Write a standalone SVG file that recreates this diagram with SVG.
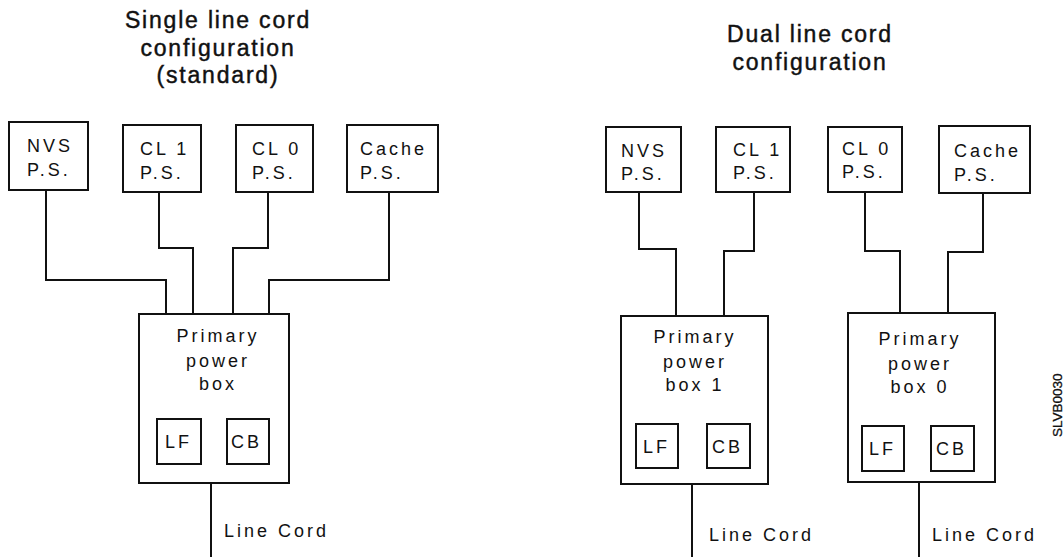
<svg xmlns="http://www.w3.org/2000/svg" width="1064" height="557" viewBox="0 0 1064 557">
<style>
.b{fill:#fff;stroke:#111;stroke-width:2}
.w{fill:none;stroke:#111;stroke-width:2}
.t{font-family:"Liberation Sans",Arial,sans-serif;font-size:23px;fill:#111;stroke:#111;stroke-width:0.45;text-anchor:middle;letter-spacing:1.8px}
.l{font-family:"Liberation Sans",Arial,sans-serif;font-size:18px;fill:#111;letter-spacing:3px}
.c{text-anchor:middle}
.s{font-family:"Liberation Sans",Arial,sans-serif;font-size:13.5px;fill:#111;stroke:#111;stroke-width:0.3}
</style>
<rect width="1064" height="557" fill="#fff"/>
<g id="titles">
<text class="t" x="218" y="28">Single line cord</text>
<text class="t" x="218" y="56">configuration</text>
<text class="t" x="218" y="83">(standard)</text>
<text class="t" x="810" y="42">Dual line cord</text>
<text class="t" x="810" y="70">configuration</text>
</g>
<g id="connectors">
<polyline class="w" points="46,190 46,280 166,280 166,314"/>
<polyline class="w" points="159,192 159,248 193,248 193,314"/>
<polyline class="w" points="268,192 268,248 233,248 233,314"/>
<polyline class="w" points="389,192 389,280 269,280 269,314"/>
<line class="w" x1="211" y1="483" x2="211" y2="557"/>
<polyline class="w" points="639,192 639,249 676,249 676,316"/>
<polyline class="w" points="754,192 754,251 724,251 724,316"/>
<polyline class="w" points="865,192 865,251 900,251 900,313"/>
<polyline class="w" points="983,193 983,252 948,252 948,313"/>
<line class="w" x1="692" y1="484" x2="692" y2="557"/>
<line class="w" x1="919" y1="482" x2="919" y2="557"/>
</g>
<g id="s-nvs"><rect class="b" x="9" y="122" width="79" height="68"/><text class="l" x="27" y="152">NVS</text><text class="l" x="27" y="176">P.S.</text></g>
<g id="s-cl1"><rect class="b" x="123" y="125" width="78" height="67"/><text class="l" x="140" y="155">CL 1</text><text class="l" x="140" y="179">P.S.</text></g>
<g id="s-cl0"><rect class="b" x="236" y="125" width="77" height="67"/><text class="l" x="252" y="155">CL 0</text><text class="l" x="252" y="179">P.S.</text></g>
<g id="s-cache"><rect class="b" x="347" y="125" width="91" height="67"/><text class="l" x="360" y="155">Cache</text><text class="l" x="360" y="179">P.S.</text></g>
<g id="s-ppb"><rect class="b" x="139" y="314" width="150" height="169"/>
<text class="l c" x="218" y="342">Primary</text><text class="l c" x="218" y="367">power</text><text class="l c" x="218" y="390">box</text>
<rect class="b" x="157" y="419" width="44" height="45"/><text class="l" x="165" y="448">LF</text>
<rect class="b" x="227" y="419" width="42" height="45"/><text class="l" x="231" y="448">CB</text></g>
<g id="s-cord"><text class="l" x="224" y="537">Line Cord</text></g>
<g id="d-nvs"><rect class="b" x="606" y="127" width="75" height="65"/><text class="l" x="621" y="157">NVS</text><text class="l" x="621" y="180">P.S.</text></g>
<g id="d-cl1"><rect class="b" x="716" y="127" width="74" height="65"/><text class="l" x="733" y="156">CL 1</text><text class="l" x="733" y="179">P.S.</text></g>
<g id="d-cl0"><rect class="b" x="828" y="127" width="74" height="65"/><text class="l" x="842" y="155">CL 0</text><text class="l" x="842" y="178">P.S.</text></g>
<g id="d-cache"><rect class="b" x="939" y="126" width="91" height="67"/><text class="l" x="954" y="157">Cache</text><text class="l" x="954" y="181">P.S.</text></g>
<g id="d-ppb1"><rect class="b" x="621" y="316" width="147" height="168"/>
<text class="l c" x="695" y="343">Primary</text><text class="l c" x="695" y="368">power</text><text class="l c" x="695" y="391">box 1</text>
<rect class="b" x="636" y="424" width="42" height="44"/><text class="l" x="643" y="453">LF</text>
<rect class="b" x="707" y="424" width="43" height="44"/><text class="l" x="712" y="453">CB</text></g>
<g id="d-cord1"><text class="l" x="709" y="541">Line Cord</text></g>
<g id="d-ppb0"><rect class="b" x="848" y="313" width="147" height="169"/>
<text class="l c" x="920" y="345">Primary</text><text class="l c" x="920" y="370">power</text><text class="l c" x="920" y="393">box 0</text>
<rect class="b" x="862" y="426" width="42" height="45"/><text class="l" x="869" y="455">LF</text>
<rect class="b" x="931" y="426" width="43" height="45"/><text class="l" x="936" y="455">CB</text></g>
<g id="d-cord0"><text class="l" x="932" y="541">Line Cord</text></g>
<text class="s" transform="translate(1062,437) rotate(-90)">SLVB0030</text>
</svg>
